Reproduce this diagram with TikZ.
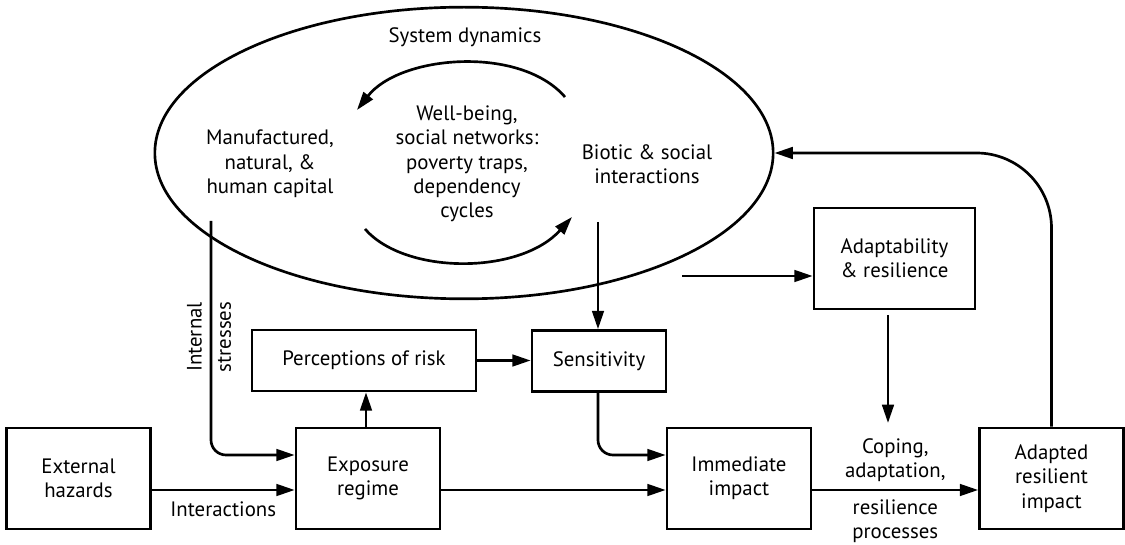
\documentclass[tikz,border=0pt]{standalone}
\usepackage{fontspec}
\setmainfont{PT Sans}
\usetikzlibrary{arrows.meta,shapes.geometric}

\begin{document}
\begin{tikzpicture}[x=0.6pt, y=-0.6pt, line width=1.6pt,
    >={Triangle[length=11pt, width=7pt]},
    box/.style={rectangle, draw, align=center, inner sep=2pt,
      minimum width=86.4pt, minimum height=60.6pt,
      font=\fontsize{12.5}{14.6}\selectfont},
    flatbox/.style={box, minimum height=36.6pt},
    lbl/.style={align=center, inner sep=0pt,
      font=\fontsize{12.5}{14.6}\selectfont}]
  \useasboundingbox (0,0) rectangle (1125,545);

  % system dynamics
  \node (sys) [ellipse, draw, minimum width=371pt, minimum height=175pt, inner sep=0pt] at (464,153) {};
  \node (systitle) [lbl] at (465,37) {System dynamics};
  \node (capital) [lbl] at (270,164) {Manufactured,\\natural, \&\\human capital};
  \node (wellbeing) [lbl] at (467,164) {Well-being,\\social networks:\\poverty traps,\\dependency\\cycles};
  \node (biotic) [lbl] at (647,164) {Biotic \& social\\interactions};

  \coordinate (upA) at (565,97);
  \coordinate (upB) at (357,110);
  \coordinate (loA) at (365,229);
  \coordinate (loB) at (572,217);
  \draw[->] (upA) .. controls (520,45) and (400,55) .. (upB);
  \draw[->] (loA) .. controls (405,275) and (520,275) .. (loB);

  % boxes
  \node (ext) [box] at (78.5,478.5) {External\\hazards};
  \node (expo) [box] at (368,478.5) {Exposure\\regime};
  \node (imm) [box] at (739,478.5) {Immediate\\impact};
  \node (adres) [box] at (1051.5,478.5) {Adapted\\resilient\\impact};
  \node (perc) [flatbox, minimum width=134.4pt] at (364,360.5) {Perceptions of risk};
  \node (sens) [flatbox, minimum width=80.4pt] at (599,361) {Sensitivity};
  \node (adapt) [box, minimum width=96.6pt] at (894.5,258.5) {Adaptability\\\& resilience};

  % connectors
  \coordinate (stressin) at (211,221);
  \coordinate (bioout) at (598,222);
  \coordinate (resout) at (682,276);
  \coordinate (adtop) at (888,315);
  \coordinate (adtip) at (888,423);

  \draw[->] ([yshift=-6.9pt]ext.east) -- ([yshift=-6.9pt]expo.west)
    node (inter) [lbl, midway, below=6pt] {Interactions};
  \draw[->, rounded corners=9pt] (stressin) |- ([yshift=14.1pt]expo.west);
  \node (stress) [lbl, rotate=90] at (209,337) {Internal\\[3pt]stresses};
  \draw[->] (expo.north -| 366,0) -- (perc.south -| 366,0);
  \draw[->] (perc.east) -- (sens.west |- perc.east);
  \draw[->] (bioout) -- (sens.north -| bioout);
  \draw[->, rounded corners=9pt] (sens.south -| bioout) |- ([yshift=14.1pt]imm.west);
  \draw[->] ([yshift=-6.9pt]expo.east) -- ([yshift=-6.9pt]imm.west);
  \draw[->] (resout) -- (adapt.west |- resout);
  \draw[->] (adtop) -- (adtip);
  \draw[->] ([yshift=-6.9pt]imm.east) -- ([yshift=-6.9pt]adres.west)
    node (coping) [lbl, midway, above=4pt] {Coping,\\adaptation,}
    node (process) [lbl, midway, below=5pt] {resilience\\processes};
  \draw[->, rounded corners=45pt] (adres.north) |- (sys.east);
\end{tikzpicture}
\end{document}
